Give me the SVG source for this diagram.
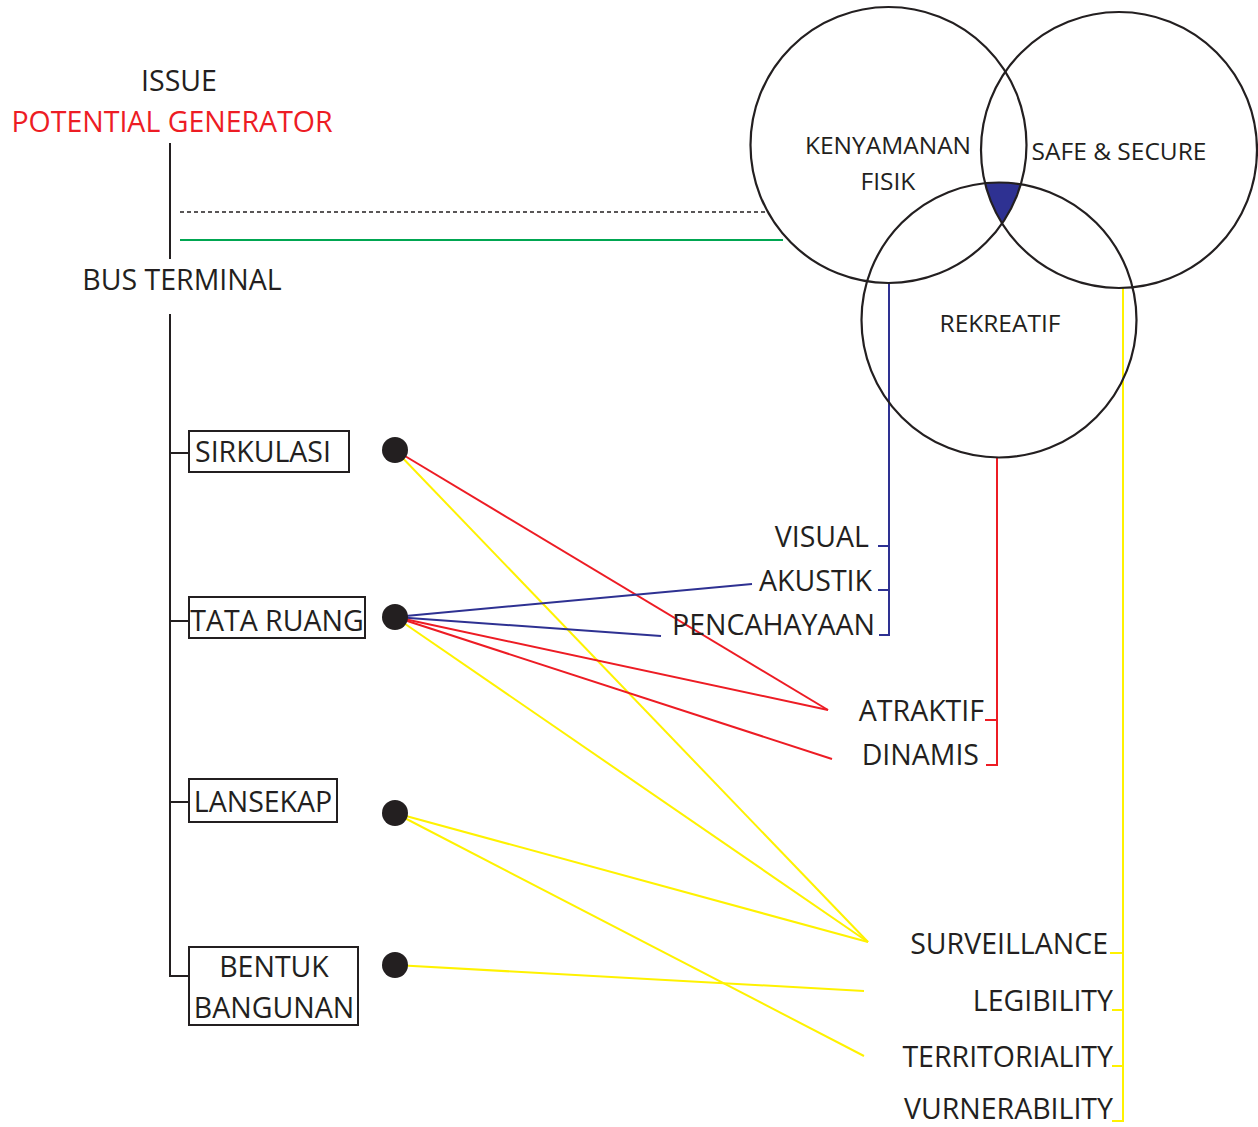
<svg xmlns="http://www.w3.org/2000/svg" width="1258" height="1127" viewBox="0 0 1258 1127">
<style>
text{font-family:"Open Sans","DejaVu Sans",sans-serif;fill:#231f20}
.m{font-size:28.5px}
.c{font-size:24.5px;text-anchor:middle}
.e{text-anchor:end}
.k{stroke:#231f20;stroke-width:2;fill:none}
.box{stroke:#231f20;stroke-width:2;fill:#fff}
.circ{stroke:#231f20;stroke-width:2.2;fill:none}
.dot{fill:#231f20}
.b{stroke:#2e3192;stroke-width:2;fill:none}
.r{stroke:#ed1c24;stroke-width:2;fill:none}
.y{stroke:#fff200;stroke-width:2;fill:none}
.g{stroke:#00a651;stroke-width:2;fill:none}
.d{stroke:#231f20;stroke-width:1.6;stroke-dasharray:4 3;fill:none}
</style>
<rect width="1258" height="1127" fill="#fff"/>
<g id="header">
<text class="m" x="179" y="91" text-anchor="middle">ISSUE</text>
<text class="m" x="172" y="132" text-anchor="middle" style="fill:#ed1c24">POTENTIAL GENERATOR</text>
<text class="m" x="182" y="290" text-anchor="middle">BUS TERMINAL</text>
</g>
<g id="connectors">
<line class="k" x1="170" y1="143" x2="170" y2="259"/>
<polyline class="k" points="170,314 170,976 190,976"/>
<line class="k" x1="170" y1="453" x2="190" y2="453"/>
<line class="k" x1="170" y1="621" x2="190" y2="621"/>
<line class="k" x1="170" y1="802" x2="190" y2="802"/>
<line class="d" x1="180" y1="212" x2="767" y2="212"/>
<line class="g" x1="180" y1="240" x2="783" y2="240"/>
<polyline class="b" points="889,283 889,635 879,635"/>
<line class="b" x1="878" y1="546" x2="889" y2="546"/>
<line class="b" x1="878" y1="590" x2="889" y2="590"/>
<polyline class="r" points="997,457 997,765 986,765"/>
<line class="r" x1="985" y1="720" x2="997" y2="720"/>
<polyline class="y" points="1123,288 1123,1121 1112,1121"/>
<line class="y" x1="1110" y1="953" x2="1123" y2="953"/>
<line class="y" x1="1112" y1="1010" x2="1123" y2="1010"/>
<line class="y" x1="1112" y1="1066" x2="1123" y2="1066"/>
<line class="r" x1="395" y1="450" x2="828" y2="710"/>
<line class="y" x1="395" y1="450" x2="868" y2="942"/>
<line class="b" x1="395" y1="617" x2="752" y2="584"/>
<line class="b" x1="395" y1="617" x2="661" y2="636"/>
<line class="r" x1="395" y1="617" x2="828" y2="710"/>
<line class="r" x1="395" y1="617" x2="832" y2="759"/>
<line class="y" x1="395" y1="617" x2="868" y2="942"/>
<line class="y" x1="395" y1="813" x2="868" y2="942"/>
<line class="y" x1="395" y1="813" x2="864" y2="1056"/>
<line class="y" x1="395" y1="965" x2="864" y2="991"/>
</g>
<g id="venn">
<path d="M984.9 182.7 A138 138 0 0 1 1020.5 183.6 A138 138 0 0 1 1001.9 223 A138 138 0 0 1 984.9 182.7 Z" fill="#2e3192"/>
<circle class="circ" cx="888.5" cy="145" r="138"/>
<circle class="circ" cx="1119" cy="150" r="138"/>
<circle class="circ" cx="999" cy="320" r="137.5"/>
</g>
<g id="kenyamanan">
<text class="c" x="888" y="154">KENYAMANAN</text>
<text class="c" x="888" y="190">FISIK</text>
</g>
<g id="safe">
<text class="c" x="1119" y="160">SAFE &amp; SECURE</text>
</g>
<g id="rekreatif">
<text class="c" x="1000" y="332">REKREATIF</text>
</g>
<g id="sirkulasi">
<rect class="box" x="189" y="431" width="160" height="41"/>
<text class="m" x="195" y="462">SIRKULASI</text>
<circle class="dot" cx="395" cy="450" r="13"/>
</g>
<g id="tata-ruang">
<rect class="box" x="189" y="597" width="176" height="41"/>
<text class="m" x="277" y="631" text-anchor="middle">TATA RUANG</text>
<circle class="dot" cx="395" cy="617" r="13"/>
</g>
<g id="lansekap">
<rect class="box" x="189" y="779" width="148" height="43"/>
<text class="m" x="263" y="812" text-anchor="middle">LANSEKAP</text>
<circle class="dot" cx="395" cy="813" r="13"/>
</g>
<g id="bentuk-bangunan">
<rect class="box" x="189" y="947" width="169" height="78"/>
<text class="m" x="274" y="977" text-anchor="middle">BENTUK</text>
<text class="m" x="274" y="1018" text-anchor="middle">BANGUNAN</text>
<circle class="dot" cx="395" cy="965" r="13"/>
</g>
<g id="kenyamanan-items">
<text class="m e" x="869" y="547">VISUAL</text>
<text class="m e" x="872" y="591">AKUSTIK</text>
<text class="m e" x="875" y="635">PENCAHAYAAN</text>
</g>
<g id="rekreatif-items">
<text class="m e" x="984" y="721">ATRAKTIF</text>
<text class="m e" x="979" y="765">DINAMIS</text>
</g>
<g id="safe-items">
<text class="m e" x="1108" y="954">SURVEILLANCE</text>
<text class="m e" x="1113" y="1011">LEGIBILITY</text>
<text class="m e" x="1113" y="1067">TERRITORIALITY</text>
<text class="m e" x="1113" y="1119">VURNERABILITY</text>
</g>
</svg>
